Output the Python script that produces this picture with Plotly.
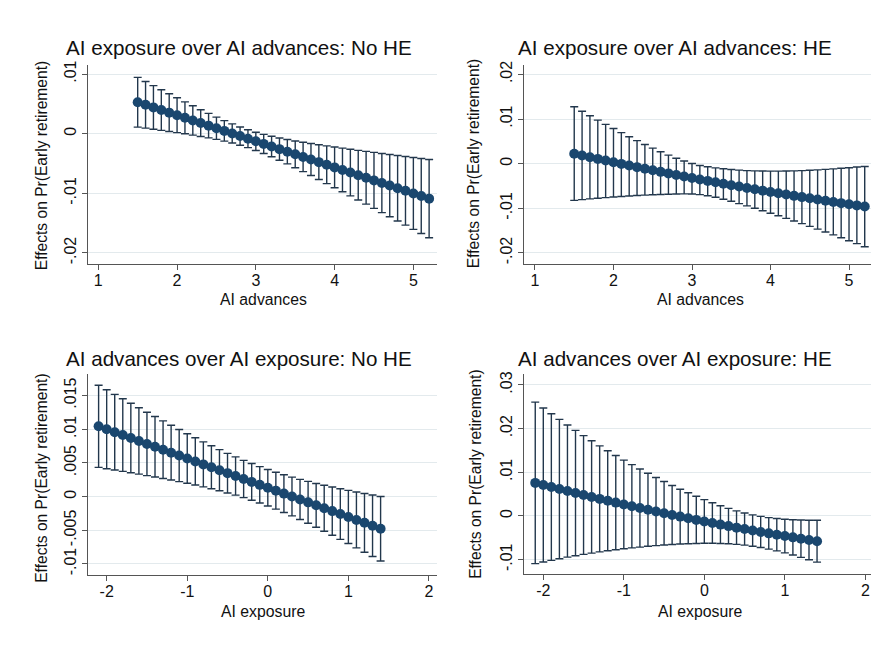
import plotly.graph_objects as go

# ---------------- data ----------------
x_adv = [1.5, 1.6, 1.7, 1.8, 1.9, 2.0, 2.1, 2.2, 2.3, 2.4, 2.5, 2.6, 2.7, 2.8, 2.9,
         3.0, 3.1, 3.2, 3.3, 3.4, 3.5, 3.6, 3.7, 3.8, 3.9, 4.0, 4.1, 4.2, 4.3, 4.4,
         4.5, 4.6, 4.7, 4.8, 4.9, 5.0, 5.1, 5.2]
x_exp = [-2.1, -2.0, -1.9, -1.8, -1.7, -1.6, -1.5, -1.4, -1.3, -1.2, -1.1, -1.0,
         -0.9, -0.8, -0.7, -0.6, -0.5, -0.4, -0.3, -0.2, -0.1, 0.0, 0.1, 0.2,
         0.3, 0.4, 0.5, 0.6, 0.7, 0.8, 0.9, 1.0, 1.1, 1.2, 1.3, 1.4]

# Panel A: AI exposure over AI advances, No HE
est_A = [0.00528, 0.00484, 0.00441, 0.00397, 0.00353, 0.00310, 0.00266, 0.00222, 0.00178, 0.00135,
         0.00091, 0.00047, 0.00004, -0.00040, -0.00084, -0.00128, -0.00171, -0.00215, -0.00259, -0.00302,
         -0.00346, -0.00390, -0.00433, -0.00477, -0.00521, -0.00565, -0.00608, -0.00652, -0.00696, -0.00739,
         -0.00783, -0.00827, -0.00870, -0.00914, -0.00958, -0.01002, -0.01045, -0.01089]
hi_A = [0.00945, 0.00875, 0.00807, 0.00738, 0.00669, 0.00602, 0.00534, 0.00468, 0.00402, 0.00340,
        0.00278, 0.00219, 0.00164, 0.00113, 0.00066, 0.00025, -0.00011, -0.00043, -0.00072, -0.00097,
        -0.00122, -0.00144, -0.00165, -0.00185, -0.00205, -0.00224, -0.00242, -0.00261, -0.00279, -0.00296,
        -0.00314, -0.00331, -0.00348, -0.00365, -0.00382, -0.00399, -0.00416, -0.00433]
lo_A = [0.00111, 0.00093, 0.00075, 0.00056, 0.00037, 0.00018, -0.00002, -0.00024, -0.00046, -0.00070,
        -0.00096, -0.00125, -0.00156, -0.00193, -0.00234, -0.00281, -0.00331, -0.00387, -0.00446, -0.00507,
        -0.00570, -0.00636, -0.00701, -0.00769, -0.00837, -0.00906, -0.00974, -0.01043, -0.01113, -0.01182,
        -0.01252, -0.01323, -0.01392, -0.01463, -0.01534, -0.01605, -0.01674, -0.01745]

# Panel B: AI exposure over AI advances, HE
est_B = [0.00222, 0.00183, 0.00145, 0.00107, 0.00069, 0.00032, -0.00005, -0.00042, -0.00078, -0.00113,
         -0.00149, -0.00184, -0.00218, -0.00253, -0.00287, -0.00320, -0.00353, -0.00386, -0.00418, -0.00450,
         -0.00482, -0.00513, -0.00544, -0.00574, -0.00604, -0.00634, -0.00663, -0.00692, -0.00721, -0.00749,
         -0.00776, -0.00804, -0.00831, -0.00857, -0.00884, -0.00910, -0.00935, -0.00960]
hi_B = [0.01276, 0.01174, 0.01074, 0.00976, 0.00880, 0.00786, 0.00694, 0.00604, 0.00516, 0.00430,
        0.00347, 0.00267, 0.00191, 0.00121, 0.00058, 0.00003, -0.00040, -0.00070, -0.00095, -0.00115,
        -0.00132, -0.00145, -0.00155, -0.00162, -0.00166, -0.00168, -0.00168, -0.00166, -0.00162, -0.00156,
        -0.00148, -0.00139, -0.00128, -0.00116, -0.00103, -0.00090, -0.00076, -0.00062]
lo_B = [-0.00822, -0.00805, -0.00789, -0.00774, -0.00760, -0.00747, -0.00735, -0.00724, -0.00714, -0.00705,
        -0.00697, -0.00690, -0.00684, -0.00679, -0.00676, -0.00678, -0.00693, -0.00718, -0.00753, -0.00796,
        -0.00843, -0.00894, -0.00946, -0.01000, -0.01055, -0.01110, -0.01167, -0.01225, -0.01284, -0.01344,
        -0.01405, -0.01467, -0.01530, -0.01594, -0.01659, -0.01725, -0.01792, -0.01860]

# Panel C: AI advances over AI exposure, No HE
est_C = [0.01044, 0.01001, 0.00957, 0.00914, 0.00870, 0.00827, 0.00783, 0.00740, 0.00697, 0.00653,
         0.00610, 0.00566, 0.00523, 0.00479, 0.00436, 0.00393, 0.00349, 0.00306, 0.00262, 0.00219,
         0.00175, 0.00132, 0.00089, 0.00045, 0.00002, -0.00042, -0.00085, -0.00129, -0.00172, -0.00215,
         -0.00259, -0.00302, -0.00346, -0.00389, -0.00433, -0.00476]
hi_C = [0.01654, 0.01587, 0.01519, 0.01453, 0.01386, 0.01320, 0.01254, 0.01189, 0.01125, 0.01060,
        0.00997, 0.00934, 0.00874, 0.00813, 0.00755, 0.00698, 0.00643, 0.00590, 0.00539, 0.00491,
        0.00445, 0.00403, 0.00363, 0.00325, 0.00290, 0.00256, 0.00226, 0.00196, 0.00169, 0.00143,
        0.00117, 0.00093, 0.00069, 0.00047, 0.00024, 0.00003]
lo_C = [0.00434, 0.00415, 0.00395, 0.00375, 0.00354, 0.00334, 0.00312, 0.00291, 0.00269, 0.00246,
        0.00223, 0.00198, 0.00172, 0.00145, 0.00117, 0.00088, 0.00055, 0.00022, -0.00015, -0.00053,
        -0.00095, -0.00139, -0.00185, -0.00235, -0.00286, -0.00340, -0.00396, -0.00454, -0.00513, -0.00573,
        -0.00635, -0.00697, -0.00761, -0.00825, -0.00890, -0.00955]

# Panel D: AI advances over AI exposure, HE
est_D = [0.00757, 0.00709, 0.00662, 0.00616, 0.00570, 0.00524, 0.00479, 0.00435, 0.00391, 0.00348,
         0.00306, 0.00264, 0.00222, 0.00181, 0.00141, 0.00101, 0.00062, 0.00023, -0.00015, -0.00053,
         -0.00090, -0.00126, -0.00162, -0.00198, -0.00232, -0.00267, -0.00300, -0.00333, -0.00366, -0.00398,
         -0.00429, -0.00460, -0.00490, -0.00520, -0.00549, -0.00578]
hi_D = [0.02606, 0.02472, 0.02340, 0.02210, 0.02083, 0.01959, 0.01838, 0.01720, 0.01605, 0.01493,
        0.01384, 0.01278, 0.01175, 0.01075, 0.00976, 0.00880, 0.00788, 0.00699, 0.00613, 0.00530,
        0.00450, 0.00374, 0.00302, 0.00235, 0.00173, 0.00117, 0.00068, 0.00026, -0.00009, -0.00037,
        -0.00059, -0.00075, -0.00086, -0.00093, -0.00097, -0.00099]
lo_D = [-0.01092, -0.01054, -0.01016, -0.00978, -0.00943, -0.00911, -0.00880, -0.00850, -0.00823, -0.00797,
        -0.00772, -0.00750, -0.00731, -0.00713, -0.00694, -0.00678, -0.00664, -0.00653, -0.00643, -0.00636,
        -0.00630, -0.00626, -0.00626, -0.00631, -0.00637, -0.00651, -0.00668, -0.00692, -0.00723, -0.00759,
        -0.00799, -0.00845, -0.00894, -0.00947, -0.01001, -0.01057]

titles = ["AI exposure over AI advances: No HE", "AI exposure over AI advances: HE",
          "AI advances over AI exposure: No HE", "AI advances over AI exposure: HE"]
xtitles = ["AI advances", "AI advances", "AI exposure", "AI exposure"]
ytitle = "Effects on Pr(Early retirement)"

xt_adv = [1, 2, 3, 4, 5]
xt_exp = [-2, -1, 0, 1, 2]
yt_A = [-0.02, -0.01, 0, 0.01];            ytl_A = ["-.02", "-.01", "0", ".01"]
yt_B = [-0.02, -0.01, 0, 0.01, 0.02];      ytl_B = ["-.02", "-.01", "0", ".01", ".02"]
yt_C = [-0.01, -0.005, 0, 0.005, 0.01, 0.015]
ytl_C = ["-.01", "-.005", "0", ".005", ".01", ".015"]
yt_D = [-0.01, 0, 0.01, 0.02, 0.03];       ytl_D = ["-.01", "0", ".01", ".02", ".03"]

# ---------------- layout geometry (pixels) ----------------
W, H = 871, 646
NAVY = "#1a476f"
BAR = "#22374c"
TXT = "#111111"
FONT = "Liberation Sans, Arial, sans-serif"

def fx(p):
    return p / W

def fy(p):
    return 1 - p / H

panels = [
    dict(x=x_adv, e=est_A, hi=hi_A, lo=lo_A, px=(88.3, 437.0), py=(61.0, 261.7),
         xr=[0.873, 5.30], yr=[-0.0218, 0.0116], xt=xt_adv, yt=yt_A, ytl=ytl_A,
         tcx=239, tcy=43.5, ytx=41.5, yty=163, xtx=263, xty=298.3),
    dict(x=x_adv, e=est_B, hi=hi_B, lo=lo_B, px=(524.3, 871.0), py=(61.0, 261.7),
         xr=[0.864, 5.28], yr=[-0.0224, 0.0222], xt=xt_adv, yt=yt_B, ytl=ytl_B,
         tcx=675, tcy=43.5, ytx=473.5, yty=161, xtx=700, xty=298.3),
    dict(x=x_exp, e=est_C, hi=hi_C, lo=lo_C, px=(88.3, 437.0), py=(373.3, 575.0),
         xr=[-2.228, 2.10], yr=[-0.01157, 0.01815], xt=xt_exp, yt=yt_C, ytl=ytl_C,
         tcx=239, tcy=357.0, ytx=41.5, yty=478, xtx=263.5, xty=612.3),
    dict(x=x_exp, e=est_D, hi=hi_D, lo=lo_D, px=(524.3, 871.0), py=(373.3, 574.3),
         xr=[-2.236, 2.07], yr=[-0.01325, 0.0324], xt=xt_exp, yt=yt_D, ytl=ytl_D,
         tcx=675, tcy=357.0, ytx=475.5, yty=474, xtx=700, xty=612.3),
]

fig = go.Figure()
annotations = []
layout_axes = {}

for i, p in enumerate(panels):
    n = i + 1
    xa = "x" if n == 1 else f"x{n}"
    ya = "y" if n == 1 else f"y{n}"
    plus = [h - e for h, e in zip(p["hi"], p["e"])]
    minus = [e - l for e, l in zip(p["e"], p["lo"])]
    fig.add_trace(go.Scatter(
        x=p["x"], y=p["e"], mode="lines+markers", xaxis=xa, yaxis=ya,
        line=dict(color=NAVY, width=2),
        marker=dict(color=NAVY, size=10),
        error_y=dict(type="data", symmetric=False, array=plus, arrayminus=minus,
                     color=BAR, thickness=1.4, width=4),
        showlegend=False, hoverinfo="skip"))

    xkey = "xaxis" if n == 1 else f"xaxis{n}"
    ykey = "yaxis" if n == 1 else f"yaxis{n}"
    layout_axes[xkey] = dict(
        domain=[fx(p["px"][0]), fx(p["px"][1])], range=p["xr"], anchor=ya,
        tickmode="array", tickvals=p["xt"], ticktext=[str(v) for v in p["xt"]],
        showgrid=False, zeroline=False, showline=True, linecolor="#555555", linewidth=1,
        ticks="outside", ticklen=5, tickwidth=1, tickcolor="#555555", ticklabelstandoff=-3,
        tickfont=dict(family=FONT, size=16, color=TXT), fixedrange=True)
    layout_axes[ykey] = dict(
        domain=[fy(p["py"][1]), fy(p["py"][0])], range=p["yr"], anchor=xa,
        tickmode="array", tickvals=p["yt"], ticktext=p["ytl"], tickangle=-90,
        showgrid=True, gridcolor="#e3eaed", gridwidth=1,
        zeroline=False, showline=True, linecolor="#555555", linewidth=1,
        ticks="outside", ticklen=5, tickwidth=1, tickcolor="#555555",
        tickfont=dict(family=FONT, size=16, color=TXT), fixedrange=True)

    annotations.append(dict(text=titles[i], x=fx(p["tcx"]), y=fy(p["tcy"]),
                            xref="paper", yref="paper", xanchor="center", yanchor="middle",
                            showarrow=False, font=dict(family=FONT, size=20.6, color=TXT)))
    annotations.append(dict(text=ytitle, x=fx(p["ytx"]), y=fy(p["yty"]), textangle=-90,
                            xref="paper", yref="paper", xanchor="center", yanchor="middle",
                            showarrow=False, font=dict(family=FONT, size=15.6, color=TXT)))
    annotations.append(dict(text=xtitles[i], x=fx(p["xtx"]), y=fy(p["xty"]),
                            xref="paper", yref="paper", xanchor="center", yanchor="middle",
                            showarrow=False, font=dict(family=FONT, size=15.8, color=TXT)))

fig.update_layout(
    width=W, height=H, margin=dict(l=0, r=0, t=0, b=0),
    paper_bgcolor="white", plot_bgcolor="white",
    annotations=annotations, **layout_axes)

fig.write_html("out.html", config={"displayModeBar": False})
